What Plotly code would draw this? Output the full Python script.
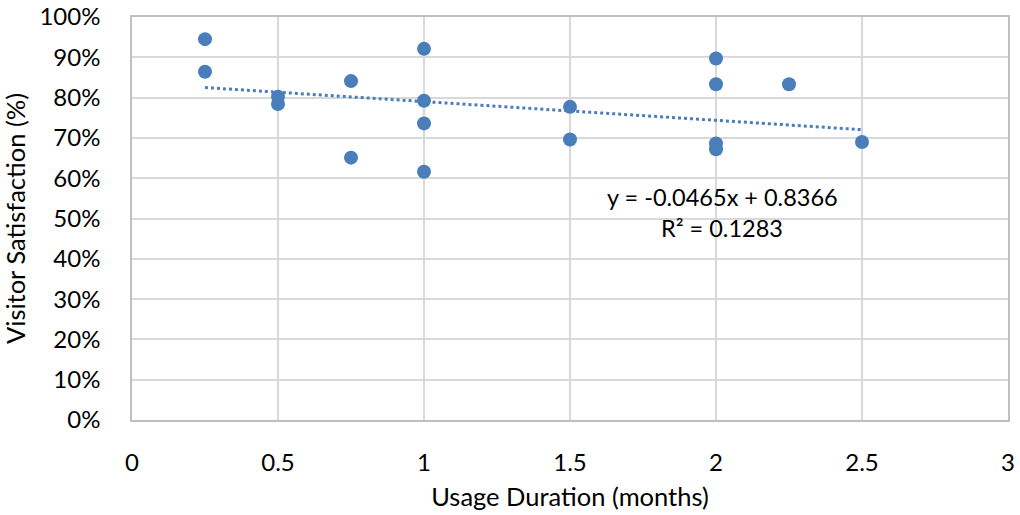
import plotly.graph_objects as go

usage_months = [0.25, 0.25, 0.5, 0.5, 0.75, 0.75, 1, 1, 1, 1, 1.5, 1.5, 2, 2, 2, 2, 2.25, 2.5]
satisfaction = [0.945, 0.864, 0.802, 0.784, 0.841, 0.651, 0.921, 0.792, 0.736, 0.616,
                0.777, 0.696, 0.897, 0.833, 0.686, 0.672, 0.833, 0.690]

slope = -0.0465
intercept = 0.8366
r2 = 0.1283
trend_x = [min(usage_months), max(usage_months)]
trend_y = [slope * x + intercept for x in trend_x]

x_ticks = [0, 0.5, 1, 1.5, 2, 2.5, 3]
x_tick_labels = ["0", "0.5", "1", "1.5", "2", "2.5", "3"]
y_ticks = [i / 10 for i in range(11)]
y_tick_labels = [f"{i*10}%" for i in range(11)]

blue = "#4a7ebb"
font_family = "Lato, Open Sans, sans-serif"

fig = go.Figure()
fig.add_trace(go.Scatter(x=trend_x, y=trend_y, mode="lines",
                         line=dict(color=blue, width=3, dash="dot"), showlegend=False,
                         hoverinfo="skip"))
fig.add_trace(go.Scatter(x=usage_months, y=satisfaction, mode="markers",
                         marker=dict(color=blue, size=14), showlegend=False))

fig.add_annotation(x=2.021, y=0.553, xref="x", yref="y", text="y = -0.0465x + 0.8366",
                   showarrow=False, font=dict(family=font_family, size=23.5, color="#000"))
fig.add_annotation(x=2.021, y=0.476, xref="x", yref="y", text="R² = 0.1283",
                   showarrow=False, font=dict(family=font_family, size=23.5, color="#000"))

fig.update_layout(
    width=1020, height=515,
    margin=dict(l=132, r=12, t=17, b=95),
    paper_bgcolor="white", plot_bgcolor="white",
    font=dict(family=font_family, size=24, color="#000"),
    xaxis=dict(range=[0, 3], tickvals=x_ticks, ticktext=x_tick_labels,
               showgrid=True, gridcolor="#d9d9d9", gridwidth=1.5,
               showline=True, linecolor="#bfbfbf", linewidth=1.5, mirror=True,
               zeroline=False, ticks="", ticklabelstandoff=20, automargin=False,
               tickfont=dict(size=24),
               title=dict(text="Usage Duration (months)", standoff=14,
                          font=dict(family=font_family, size=25.5))),
    yaxis=dict(range=[0, 1], tickvals=y_ticks, ticktext=y_tick_labels,
               showgrid=True, gridcolor="#d9d9d9", gridwidth=1.5,
               showline=True, linecolor="#bfbfbf", linewidth=1.5, mirror=True,
               zeroline=False, ticks="", ticklabelstandoff=25, automargin=False,
               tickfont=dict(size=24),
               title=dict(text="Visitor Satisfaction (%)", standoff=8,
                          font=dict(family=font_family, size=25.5))),
)

fig.write_html("out.html")
